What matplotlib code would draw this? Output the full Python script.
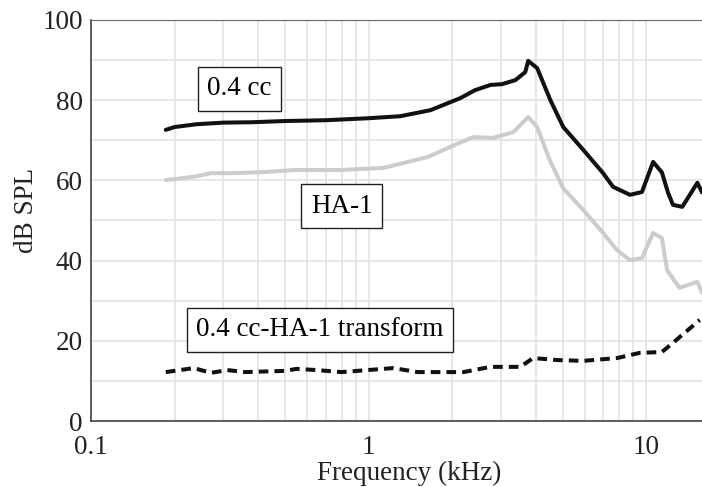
import matplotlib
matplotlib.use('Agg')
import matplotlib.pyplot as plt
from matplotlib.ticker import FixedLocator, LogLocator, NullFormatter

plt.rcParams['font.family'] = 'Liberation Serif'

# 0.4 cc coupler response
cc_freq = [0.186, 0.2, 0.24, 0.3, 0.38, 0.5, 0.7, 1.0, 1.3, 1.67, 2.14, 2.42,
           2.75, 3.03, 3.38, 3.67, 3.76, 4.05, 4.52, 5.03, 5.94, 7.0, 7.6,
           8.75, 9.66, 10.6, 11.4, 12.0, 12.5, 13.5, 15.3, 15.9]
cc_db = [72.6, 73.3, 74.0, 74.4, 74.5, 74.8, 75.0, 75.5, 76.0, 77.5, 80.5, 82.5,
         83.8, 84.0, 85.0, 87.0, 89.8, 88.0, 80.0, 73.3, 67.6, 61.8, 58.4,
         56.4, 57.1, 64.6, 62.0, 56.9, 53.9, 53.4, 59.4, 57.0]

# HA-1 coupler response
ha_freq = [0.186, 0.2, 0.24, 0.27, 0.32, 0.4, 0.55, 0.8, 1.13, 1.63, 1.92,
           2.38, 2.81, 3.32, 3.76, 4.05, 4.5, 5.03, 5.94, 7.0, 7.86, 8.75,
           9.66, 10.6, 11.4, 11.9, 13.2, 15.3, 15.9]
ha_db = [60.1, 60.3, 61.0, 61.8, 61.8, 62.0, 62.6, 62.6, 63.1, 65.8, 68.0,
         70.8, 70.6, 72.0, 75.8, 73.3, 65.0, 58.0, 52.6, 46.9, 42.6, 40.1,
         40.6, 46.9, 45.6, 37.6, 33.2, 34.7, 32.0]

# 0.4 cc - HA-1 transform
tr_freq = [0.186, 0.235, 0.27, 0.31, 0.36, 0.5, 0.55, 0.65, 0.8, 1.23, 1.5,
           2.2, 2.75, 3.52, 3.92, 4.78, 5.94, 7.86, 9.5, 11.4, 12.5, 15.6]
tr_db = [12.2, 13.2, 12.0, 12.7, 12.2, 12.5, 13.0, 12.7, 12.2, 13.2, 12.2,
         12.2, 13.5, 13.5, 15.7, 15.2, 15.0, 15.7, 17.0, 17.2, 19.5, 25.2]

fig = plt.figure(figsize=(7.02, 4.87), dpi=100)
ax = fig.add_axes([0.1296, 0.1355, 0.8704, 0.8235])

ax.plot(cc_freq, cc_db, color='#111111', lw=2.9, solid_capstyle='round')
ax.plot(ha_freq, ha_db, color='#cccccc', lw=2.9, solid_capstyle='round')
ax.plot(tr_freq, tr_db, color='#111111', lw=2.9, dashes=(2.4, 1.5))

ax.set_xscale('log')
ax.set_xlim(0.1, 15.9)
ax.set_ylim(0, 100)
ax.xaxis.set_major_locator(FixedLocator([0.1, 1, 10]))
ax.set_xticklabels(['0.1', '1', '10'])
ax.xaxis.set_minor_locator(LogLocator(base=10, subs=[2, 3, 4, 5, 6, 7, 8, 9]))
ax.xaxis.set_minor_formatter(NullFormatter())
ax.set_yticks([0, 20, 40, 60, 80, 100])
ax.set_yticks([10, 30, 50, 70, 90], minor=True)

ax.grid(True, which='both', color='#e2e2e2', lw=1.2)
ax.set_axisbelow(True)
ax.tick_params(which='both', length=0, labelsize=19.5, colors='#222222')
ax.tick_params(axis='x', pad=10)
ax.tick_params(axis='y', pad=6)

for s in ['left', 'bottom']:
    ax.spines[s].set_color('#444444')
    ax.spines[s].set_linewidth(1.2)
ax.spines['top'].set_color('#666666')
ax.spines['right'].set_visible(False)

ax.set_xlabel('Frequency (kHz)', fontsize=19.5, color='#222222')
ax.set_ylabel('dB SPL', fontsize=19.5, color='#222222')
ax.xaxis.set_label_coords(0.52, -0.1)
ax.yaxis.set_label_coords(-0.085, 0.526)

box = dict(boxstyle='square,pad=0.35', fc='white', ec='#222222', lw=1.0)
ax.text(0.343, 82.9, '0.4 cc', fontsize=19.5, ha='center', va='center', bbox=box)
ax.text(0.80, 53.6, 'HA-1', fontsize=19.5, ha='center', va='center', bbox=box)
ax.text(0.667, 22.7, '0.4 cc-HA-1 transform', fontsize=19.5, ha='center',
        va='center', bbox=box)

plt.savefig('out.png', dpi=100)
